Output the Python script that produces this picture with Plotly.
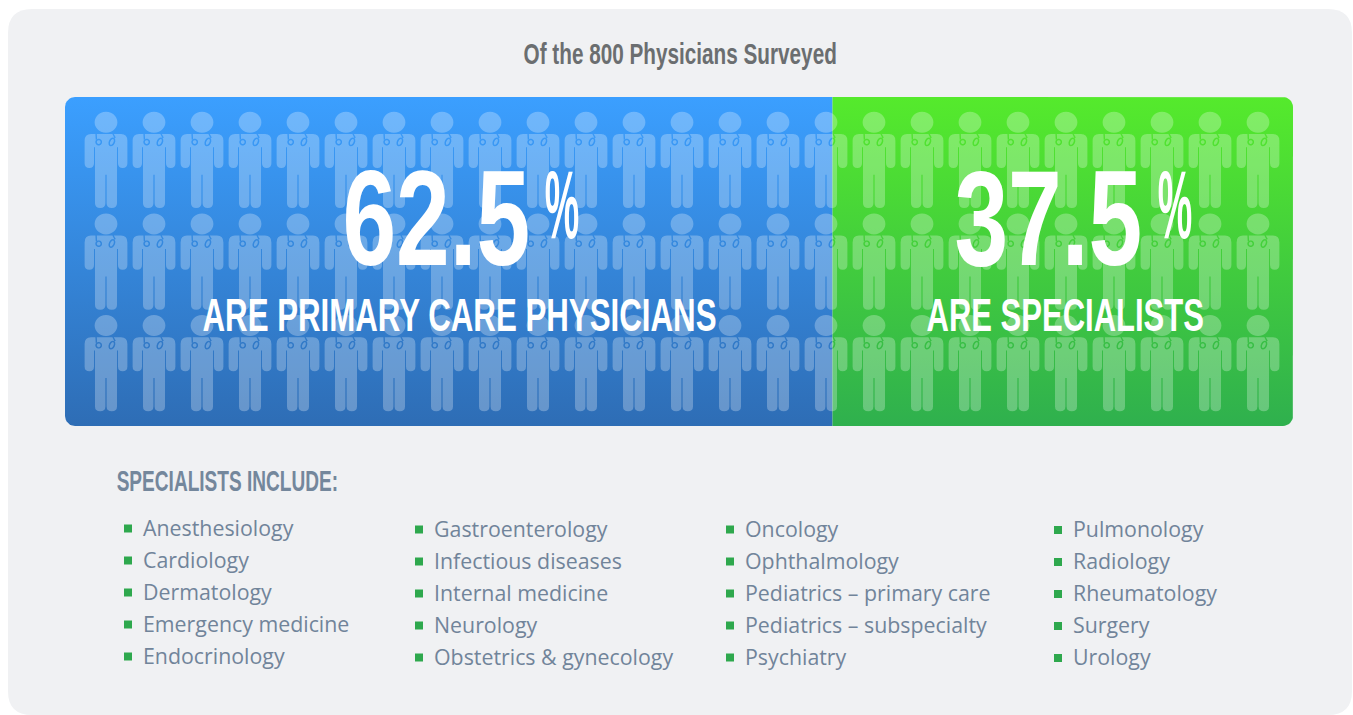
import math
import json
import plotly.graph_objects as go

# ---- data ----
categories = ["ARE PRIMARY CARE PHYSICIANS", "ARE SPECIALISTS"]
shares = [62.5, 37.5]
share_labels = ["62.5", "37.5"]
title_text = "Of the 800 Physicians Surveyed"
list_title = "SPECIALISTS INCLUDE:"
col1 = ["Anesthesiology", "Cardiology", "Dermatology", "Emergency medicine", "Endocrinology"]
col2 = ["Gastroenterology", "Infectious diseases", "Internal medicine", "Neurology", "Obstetrics & gynecology"]
col3 = ["Oncology", "Ophthalmology", "Pediatrics – primary care", "Pediatrics – subspecialty", "Psychiatry"]
col4 = ["Pulmonology", "Radiology", "Rheumatology", "Surgery", "Urology"]

# ---- layout constants (pixels of the 1353x715 page) ----
W, H = 1353, 715
BAR_L, BAR_R, BAR_T, BAR_B = 65, 1293, 97, 426
GRADS = [("#3b9fff", "#2e6db5"), ("#55ea2c", "#2fb04e")]
CONDENSED = "Liberation Sans, Arial, sans-serif"
BODY = "Open Sans, sans-serif"
TXT = "#71849a"
GREEN = "#2ea84d"


def corner(cx, cy, r, a0, a1, n=8):
    return [(cx + r * math.cos(math.radians(a0 + (a1 - a0) * i / n)),
             cy + r * math.sin(math.radians(a0 + (a1 - a0) * i / n))) for i in range(n + 1)]


def bar_poly(x0, x1, round_left, round_right, r=10):
    pts = []
    pts += corner(x0 + r, BAR_T + r, r, 180, 270) if round_left else [(x0, BAR_T)]
    pts += corner(x1 - r, BAR_T + r, r, 270, 360) if round_right else [(x1, BAR_T)]
    pts += corner(x1 - r, BAR_B - r, r, 0, 90) if round_right else [(x1, BAR_B)]
    pts += corner(x0 + r, BAR_B - r, r, 90, 180) if round_left else [(x0, BAR_B)]
    pts.append(pts[0])
    return [p[0] for p in pts], [p[1] for p in pts]


def ellipse(cx, cy, rx, ry, tilt=0.0, n=14):
    out = []
    t = math.radians(tilt)
    for i in range(n):
        a = 2 * math.pi * i / n
        x, y = rx * math.cos(a), ry * math.sin(a)
        out.append((cx + x * math.cos(t) - y * math.sin(t), cy + x * math.sin(t) + y * math.cos(t)))
    return out


def poly_path(pts, ox, oy):
    return "M" + " L".join(f"{ox + x:.2f},{oy + y:.2f}" for x, y in pts) + " Z "


def person_path(ox, oy):
    def P(x, y):
        return f"{ox + x:.2f},{oy + y:.2f}"
    d = poly_path(ellipse(0, 0, 11.4, 10.5, n=28), ox, oy)
    # body silhouette
    d += f"M{P(-15,11.7)} L{P(15,11.7)} Q{P(21.4,11.7)} {P(21.4,18.5)} L{P(21.4,41)} "
    d += f"Q{P(21.4,45.8)} {P(16.7,45.8)} Q{P(12,45.8)} {P(12,41)} L{P(12,25)} L{P(11,25)} "
    d += f"L{P(11,81)} Q{P(11,85.8)} {P(5.8,85.8)} Q{P(0.6,85.8)} {P(0.6,81)} L{P(0.6,52.5)} L{P(-0.6,52.5)} "
    d += f"L{P(-0.6,81)} Q{P(-0.6,85.8)} {P(-5.8,85.8)} Q{P(-11,85.8)} {P(-11,81)} L{P(-11,25)} L{P(-12,25)} "
    d += f"L{P(-12,41)} Q{P(-12,45.8)} {P(-16.7,45.8)} Q{P(-21.4,45.8)} {P(-21.4,41)} L{P(-21.4,18.5)} Q{P(-21.4,11.7)} {P(-15,11.7)} Z "
    # stethoscope cut-outs: ring holes and tube holes
    for cx, cy, rx, ry, t in [(-7.3, 19.8, 2.6, 2.6, 0), (5.9, 19.6, 2.3, 3.9, 25)]:
        d += poly_path(ellipse(cx, cy, rx + 0.8, ry + 0.8, t), ox, oy)
        d += poly_path(ellipse(cx, cy, max(rx - 0.7, .3), max(ry - 0.7, .3), t), ox, oy)
    d += poly_path([(-10.6, 11.7), (-9.2, 11.7), (-8.9, 17.4), (-10.3, 17.4)], ox, oy)
    d += poly_path([(6.4, 11.7), (7.8, 11.7), (9.8, 15.2), (8.5, 15.9)], ox, oy)
    return d


def rounded_rect(x0, y0, x1, y1, r):
    return (f"M{x0 + r},{y0} L{x1 - r},{y0} Q{x1},{y0} {x1},{y0 + r} L{x1},{y1 - r} Q{x1},{y1} {x1 - r},{y1} "
            f"L{x0 + r},{y1} Q{x0},{y1} {x0},{y1 - r} L{x0},{y0 + r} Q{x0},{y0} {x0 + r},{y0} Z")


fig = go.Figure()

# bars: widths come from the shares
total = sum(shares)
span = BAR_R - BAR_L
split = BAR_L + span * shares[0] / total
for i, (x0, x1) in enumerate([(BAR_L, split), (split, BAR_R)]):
    xs, ys = bar_poly(x0, x1, i == 0, i == 1)
    top, bottom = GRADS[i]
    fig.add_trace(go.Scatter(
        x=xs, y=ys, mode="lines", line=dict(width=0), fill="toself", hoverinfo="skip", name=categories[i],
        # the y axis runs downwards, so the gradient stops are given bottom first
        fillgradient=dict(type="vertical", colorscale=[[0, bottom], [1, top]]),
    ))

# bullets
columns = [col1, col2, col3, col4]
col_text_x = [142, 433, 744, 1072]
col_bullet_x = [128, 419, 730, 1058]
col_first_y = [528.5, 529.5, 529.5, 530]
ROW = 32
bx, by = [], []
for c, b, y0 in zip(columns, col_bullet_x, col_first_y):
    for j in range(len(c)):
        bx.append(b)
        by.append(y0 + j * ROW)
fig.add_trace(go.Scatter(x=bx, y=by, mode="markers", hoverinfo="skip",
                         marker=dict(symbol="square", size=8, color=GREEN, line=dict(width=0))))

shapes = [dict(type="path", path=rounded_rect(8, 9, 1352, 715, 24), fillcolor="#f0f1f3",
               line=dict(width=0), layer="below")]
for r in range(3):
    for c in range(25):
        shapes.append(dict(type="path", path=person_path(106 + 48 * c, 122.3 + 101.6 * r),
                           fillcolor="rgba(255,255,255,0.27)", fillrule="evenodd",
                           line=dict(width=0), layer="above"))

annotations = []
scales = []


def text(x, y, s, size, color, family=CONDENSED, weight="bold", anchor="center", k=1.0):
    annotations.append(dict(x=x, y=y, xref="x", yref="y", text=s, showarrow=False, xanchor=anchor,
                            yanchor="middle", align=anchor,
                            font=dict(family=family, size=size, color=color, weight=weight),
                            borderpad=0))
    scales.append(k)


text(680, 54, title_text, 29, "#6b6e70", k=0.715)
text(436.5, 218, share_labels[0], 136, "white", k=0.71)
text(562, 204, "%", 97, "white", k=0.40)
text(1048.5, 218, share_labels[1], 136, "white", k=0.71)
text(1175, 204, "%", 97, "white", k=0.40)
text(459.5, 314, categories[0], 47, "white", k=0.665)
text(1064.5, 314, categories[1], 47, "white", k=0.66)
text(227.5, 481, list_title, 29, "#74879c", k=0.658)
for c, tx, y0 in zip(columns, col_text_x, col_first_y):
    for j, label in enumerate(c):
        text(tx, y0 + j * ROW - 1.5, label, 21.35, TXT, family=BODY, weight="normal", anchor="left")

fig.update_layout(
    width=W, height=H, margin=dict(l=0, r=0, t=0, b=0), autosize=False,
    paper_bgcolor="white", plot_bgcolor="rgba(0,0,0,0)", showlegend=False,
    xaxis=dict(range=[0, W], visible=False, fixedrange=True),
    yaxis=dict(range=[H, 0], visible=False, fixedrange=True),
    shapes=shapes, annotations=annotations,
)

post = """
document.body.style.margin='0';
var k=%s;
document.querySelectorAll('.annotation').forEach(function(a,i){
  var t=a.querySelector('text'); if(!t||k[i]===1) return;
  t.style.transformBox='fill-box'; t.style.transformOrigin='center';
  t.style.transform='scaleX('+k[i]+')';
});
""" % json.dumps(scales)
fig.write_html("out.html", post_script=post, config=dict(displayModeBar=False, staticPlot=True))
